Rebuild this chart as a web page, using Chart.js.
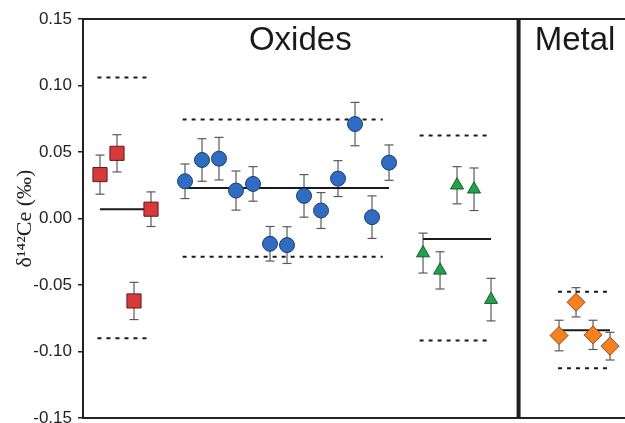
<!DOCTYPE html>
<html>
<head>
<meta charset="utf-8">
<script src="https://cdn.jsdelivr.net/npm/chart.js@4/dist/chart.umd.min.js"></script>
<style>
html, body { margin: 0; padding: 0; background: #fff; }
</style>
</head>
<body>
<canvas id="ceChart" width="625" height="423"></canvas>
<script>
// sample positions along the x axis (one slot per sample)
const redPos = [1, 2, 3, 4];
const bluePos = [6, 7, 8, 9, 10, 11, 12, 13, 14, 15, 16, 17, 18];
const greenPos = [20, 21, 22, 23, 24];
const orangePos = [28, 29, 30, 31];

// delta 142 Ce values and 2SD errors
const redVals = [0.033, 0.049, -0.062, 0.007];
const redErr = [0.0147, 0.014, 0.014, 0.013];
const blueVals = [0.028, 0.044, 0.045, 0.021, 0.026, -0.019, -0.020, 0.017, 0.006, 0.030, 0.071, 0.001, 0.042];
const blueErr = [0.013, 0.016, 0.016, 0.0147, 0.013, 0.013, 0.0138, 0.016, 0.0135, 0.0135, 0.0163, 0.016, 0.0133];
const greenVals = [-0.026, -0.039, 0.025, 0.022, -0.061];
const greenErr = [0.015, 0.014, 0.014, 0.016, 0.016];
const orangeVals = [-0.088, -0.063, -0.0875, -0.096];
const orangeErr = [0.0115, 0.011, 0.011, 0.0104];

// group mean and +/- 2SD envelope
const groupMeans = [0.007, 0.023, -0.0155, -0.084];
const groupUpper = [0.106, 0.0744, 0.0624, -0.055];
const groupLower = [-0.090, -0.0288, -0.0917, -0.1125];
const meanSpan = [[1, 4], [6, 18], [20, 24], [28, 31]];
const dashSpan = [[0.85, 4], [5.86, 17.63], [19.8, 23.75], [27.94, 31]];

const dividerX = 25.62;
const groupLabels = ["Oxides", "Metal"];
const yTicks = [-0.15, -0.10, -0.05, 0.00, 0.05, 0.10, 0.15];

function points(pos, vals) {
    return pos.map((x, i) => ({ x, y: vals[i] }));
}

function errorBars(pos, vals, errs) {
    const out = [];
    pos.forEach((x, i) => {
        out.push({ x, y: vals[i] - errs[i] });
        out.push({ x, y: vals[i] + errs[i] });
        out.push({ x, y: null });
    });
    return out;
}

function segment(span, y) {
    return [{ x: span[0], y }, { x: span[1], y }];
}

function markerSet(data, style, radius, fill, edge) {
    return {
        data,
        pointStyle: style,
        pointRadius: radius,
        pointHoverRadius: radius,
        pointBackgroundColor: fill,
        pointBorderColor: edge,
        pointBorderWidth: 1,
        showLine: false,
        order: 0
    };
}

function errSet(data) {
    return {
        data,
        showLine: true,
        spanGaps: false,
        borderColor: "#5a5a5a",
        borderWidth: 1.2,
        pointStyle: "line",
        pointRadius: 4.5,
        pointBorderColor: "#5a5a5a",
        pointBorderWidth: 1.2,
        order: 2
    };
}

function lineSet(data, dashed) {
    return {
        data,
        showLine: true,
        borderColor: "#1a1a1a",
        borderWidth: 2,
        borderDash: dashed ? [4, 5] : [],
        pointRadius: 0,
        order: 1
    };
}

const datasets = [];

datasets.push(markerSet(points(redPos, redVals), "rect", 10, "#d63a3a", "#5e1b1b"));
datasets.push(markerSet(points(bluePos, blueVals), "circle", 7.5, "#2f6cc2", "#1c3d70"));
datasets.push(markerSet(points(greenPos, greenVals), "triangle", 7.5, "#22a14b", "#1a5a2a"));
datasets.push(markerSet(points(orangePos, orangeVals), "rectRot", 9, "#f5821f", "#8a4812"));

datasets.push(errSet(errorBars(redPos, redVals, redErr)));
datasets.push(errSet(errorBars(bluePos, blueVals, blueErr)));
datasets.push(errSet(errorBars(greenPos, greenVals, greenErr)));
datasets.push(errSet(errorBars(orangePos, orangeVals, orangeErr)));

for (let g = 0; g < groupMeans.length; g++) {
    datasets.push(lineSet(segment(meanSpan[g], groupMeans[g]), false));
    datasets.push(lineSet(segment(dashSpan[g], groupUpper[g]), true));
    datasets.push(lineSet(segment(dashSpan[g], groupLower[g]), true));
}

datasets.push({
    data: [{ x: dividerX, y: -0.15 }, { x: dividerX, y: 0.15 }],
    showLine: true,
    borderColor: "#1e1e1e",
    borderWidth: 4,
    pointRadius: 0,
    order: 1
});

const groupTitles = {
    id: "groupTitles",
    afterDatasetsDraw(chart) {
        const ctx = chart.ctx;
        const xs = chart.scales.x;
        const ys = chart.scales.y;
        const centers = [12.78, 28.94];
        ctx.save();
        ctx.fillStyle = "#1a1a1a";
        ctx.font = "33px 'Liberation Sans', Arial, sans-serif";
        ctx.textAlign = "center";
        ctx.textBaseline = "alphabetic";
        groupLabels.forEach((t, i) => {
            ctx.fillText(t, xs.getPixelForValue(centers[i]), ys.getPixelForValue(0.127));
        });
        ctx.restore();
    }
};

// drop the label overhang padding so the frame runs to the canvas edge
function noPad(s) {
    s.paddingTop = 0;
    s.paddingBottom = 0;
    s.paddingLeft = 0;
    s.paddingRight = 0;
}

const axisColor = "#222";

const ceChart = new Chart(document.getElementById("ceChart"), {
    type: "scatter",
    data: { datasets },
    options: {
        responsive: false,
        devicePixelRatio: 1,
        animation: false,
        events: [],
        layout: { autoPadding: false, padding: { top: 19, right: 0, bottom: 5, left: 0 } },
        plugins: {
            legend: { display: false },
            tooltip: { enabled: false }
        },
        scales: {
            x: {
                type: "linear",
                position: "bottom",
                min: 0,
                max: 31.88,
                ticks: { display: false },
                grid: { display: false },
                border: { display: true, color: axisColor, width: 2 },
                afterFit: s => { s.height = 0; noPad(s); }
            },
            x2: {
                type: "linear",
                position: "top",
                min: 0,
                max: 31.88,
                ticks: { display: false },
                grid: { display: false },
                border: { display: true, color: axisColor, width: 2 },
                afterFit: s => { s.height = 0; noPad(s); }
            },
            y: {
                type: "linear",
                min: -0.15,
                max: 0.15,
                afterBuildTicks: s => { s.ticks = yTicks.map(v => ({ value: v })); },
                ticks: {
                    color: axisColor,
                    padding: 6,
                    font: { family: "'Liberation Sans', Arial, sans-serif", size: 17 },
                    callback: v => (Math.abs(v) < 1e-9 ? "0.00" : v.toFixed(2))
                },
                grid: {
                    drawOnChartArea: false,
                    drawTicks: true,
                    tickLength: 5,
                    tickColor: axisColor,
                    lineWidth: 1.5
                },
                border: { display: true, color: axisColor, width: 2 },
                title: {
                    display: true,
                    text: "δ¹⁴²Ce (‰)",
                    color: axisColor,
                    padding: { top: 12, bottom: 0 },
                    font: { family: "'Liberation Serif', 'Times New Roman', serif", size: 22 }
                },
                afterFit: s => { s.width = 83; noPad(s); }
            }
        }
    },
    plugins: [groupTitles]
});
</script>
</body>
</html>
